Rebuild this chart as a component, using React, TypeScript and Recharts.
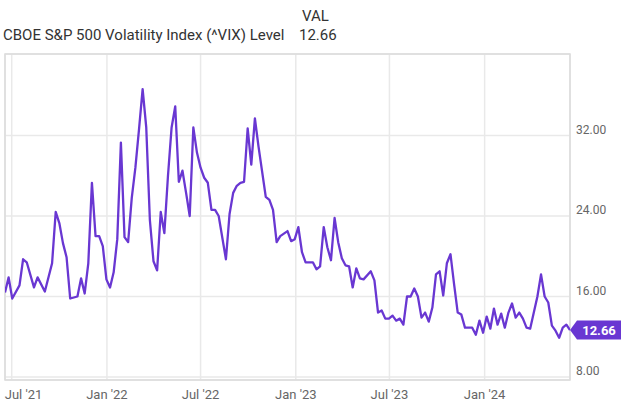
import { LineChart, Line, XAxis, YAxis, CartesianGrid, ReferenceArea } from "recharts";

// weekly readings, Fridays (a few flat/straight weeks left out)
const weekDates = [
  "2021-06-18", "2021-06-25", "2021-07-02", "2021-07-16", "2021-07-23", "2021-07-30", "2021-08-13", "2021-08-20",
  "2021-09-03", "2021-09-17", "2021-09-24", "2021-10-01", "2021-10-08", "2021-10-15", "2021-10-22", "2021-11-05",
  "2021-11-12", "2021-11-19", "2021-11-26", "2021-12-03", "2021-12-10", "2021-12-17", "2021-12-24", "2021-12-31",
  "2022-01-07", "2022-01-14", "2022-01-21", "2022-01-28", "2022-02-04", "2022-02-11", "2022-02-18", "2022-02-25",
  "2022-03-04", "2022-03-11", "2022-03-18", "2022-03-25", "2022-04-01", "2022-04-08", "2022-04-15", "2022-04-22",
  "2022-04-29", "2022-05-06", "2022-05-13", "2022-05-20", "2022-05-27", "2022-06-03", "2022-06-10", "2022-06-17",
  "2022-06-24", "2022-07-01", "2022-07-08", "2022-07-15", "2022-07-22", "2022-07-29", "2022-08-05", "2022-08-19",
  "2022-08-26", "2022-09-02", "2022-09-09", "2022-09-16", "2022-09-23", "2022-09-30", "2022-10-07", "2022-10-14",
  "2022-10-21", "2022-11-04", "2022-11-11", "2022-11-18", "2022-11-25", "2022-12-02", "2022-12-16", "2022-12-23",
  "2022-12-30", "2023-01-06", "2023-01-13", "2023-01-20", "2023-01-27", "2023-02-03", "2023-02-10", "2023-02-17",
  "2023-02-24", "2023-03-03", "2023-03-10", "2023-03-17", "2023-03-24", "2023-03-31", "2023-04-07", "2023-04-14",
  "2023-04-21", "2023-04-28", "2023-05-05", "2023-05-12", "2023-05-26", "2023-06-02", "2023-06-09", "2023-06-16",
  "2023-06-23", "2023-06-30", "2023-07-07", "2023-07-14", "2023-07-21", "2023-07-28", "2023-08-04", "2023-08-11",
  "2023-08-18", "2023-08-25", "2023-09-01", "2023-09-08", "2023-09-15", "2023-09-22", "2023-09-29", "2023-10-06",
  "2023-10-13", "2023-10-20", "2023-10-27", "2023-11-03", "2023-11-10", "2023-11-17", "2023-11-24", "2023-12-01",
  "2023-12-08", "2023-12-15", "2023-12-22", "2023-12-29", "2024-01-05", "2024-01-12", "2024-01-19", "2024-01-26",
  "2024-02-02", "2024-02-09", "2024-02-16", "2024-02-23", "2024-03-01", "2024-03-08", "2024-03-15", "2024-03-22",
  "2024-03-29", "2024-04-12", "2024-04-19", "2024-04-26", "2024-05-03", "2024-05-10", "2024-05-17", "2024-05-24",
  "2024-05-31", "2024-06-07", "2024-06-14",
];

const vixValues = [
  16.4, 17.9, 15.8, 17.1, 19.7, 19.4, 16.9, 17.9,
  16.5, 19.3, 24.4, 23.3, 21.3, 19.9, 15.8, 16.0,
  17.8, 16.3, 19.3, 27.3, 22.0, 22.0, 21.0, 17.7,
  16.9, 18.4, 21.7, 31.3, 21.9, 21.4, 25.8, 28.8,
  32.6, 36.6, 32.8, 23.6, 19.5, 18.6, 24.4, 22.3,
  28.0, 32.8, 34.9, 27.4, 28.5, 26.3, 24.0, 32.8,
  30.3, 28.8, 27.8, 27.3, 24.6, 24.6, 24.0, 19.7,
  24.2, 26.3, 27.0, 27.3, 27.4, 32.7, 29.1, 33.7,
  30.9, 25.9, 25.6, 24.6, 21.4, 22.0, 22.5, 21.5,
  21.7, 22.9, 20.4, 19.4, 19.4, 19.4, 18.7, 19.0,
  22.9, 20.9, 19.6, 23.8, 21.4, 19.8, 19.1, 19.0,
  16.9, 18.8, 17.8, 17.7, 18.5, 17.6, 14.4, 14.6,
  13.8, 13.8, 14.1, 13.6, 13.8, 13.2, 16.0, 16.0,
  16.8, 16.0, 13.9, 14.4, 13.5, 14.9, 18.2, 18.5,
  16.1, 19.3, 20.2, 17.2, 14.4, 14.2, 12.9, 12.9,
  12.9, 12.2, 13.6, 12.4, 14.0, 12.8, 14.8, 13.2,
  14.3, 12.9, 14.4, 15.3, 13.9, 14.4, 13.8, 12.9,
  12.8, 16.0, 18.2, 16.0, 15.4, 13.1, 12.6, 11.9,
  12.9, 13.2, 12.66,
];

const xTickDates = ["2021-07-01", "2022-01-01", "2022-07-01", "2023-01-01", "2023-07-01", "2024-01-01"];
const xTickLabels = ["Jul '21", "Jan '22", "Jul '22", "Jan '23", "Jul '23", "Jan '24"];
const yTicks = [8, 16, 24, 32];

const PURPLE = "#6937d2";
const toTime = (d: string) => new Date(d + "T00:00:00Z").getTime();

const data = weekDates.map((d, i) => ({ t: toTime(d), value: vixValues[i] }));
const xTicks = xTickDates.map(toTime);
const tMin = data[0].t;
const tMax = data[data.length - 1].t;
const yDomain = [7.7, 40.1];

const XTick = ({ x, y, payload, index }: any) => {
  const i = xTicks.indexOf(payload.value);
  const first = index === 0;
  return (
    <text
      x={first ? x - 7 : x}
      y={y + 17}
      textAnchor={first ? "start" : "middle"}
      fill="#666"
      fontSize={13}
      fontFamily="Roboto"
    >
      {xTickLabels[i]}
    </text>
  );
};

const YTick = ({ x, y, payload }: any) => (
  <text x={x} y={y - 6} dy="0.35em" textAnchor="start" fill="#666" fontSize={12} fontFamily="Roboto">
    {payload.value.toFixed(2)}
  </text>
);

const LastBadge = (props: any) => {
  const { x, y, index, value } = props;
  if (index !== data.length - 1) return null;
  const h = 9.5;
  return (
    <g>
      <polygon
        points={`${x},${y} ${x + 7},${y - h} ${x + 51},${y - h} ${x + 51},${y + h} ${x + 7},${y + h}`}
        fill={PURPLE}
      />
      <text x={x + 29} y={y} dy="0.36em" textAnchor="middle" fill="#fff" fontSize={13} fontWeight="bold" fontFamily="Roboto">
        {value.toFixed(2)}
      </text>
    </g>
  );
};

export default function App() {
  return (
    <div style={{ position: "absolute", left: 0, top: 0, width: 640, height: 405, background: "#fff", fontFamily: "Roboto" }}>
      <div style={{ position: "absolute", left: 3, top: 26, fontSize: 15, color: "#333" }}>
        CBOE S&amp;P 500 Volatility Index (^VIX) Level
      </div>
      <div style={{ position: "absolute", left: 302, top: 7, fontSize: 15, color: "#333" }}>VAL</div>
      <div style={{ position: "absolute", left: 299, top: 26, fontSize: 15, color: "#333" }}>12.66</div>
      <LineChart width={640} height={405} data={data} margin={{ top: 54, right: 5, bottom: 0, left: 5 }}>
        <CartesianGrid stroke="#e9e9e9" strokeWidth={1.5} />
        <ReferenceArea x1={tMin} x2={tMax} y1={yDomain[0]} y2={yDomain[1]} fill="none" stroke="#dcdcdc" strokeWidth={1.5} />
        <XAxis
          dataKey="t"
          type="number"
          domain={[tMin, tMax]}
          ticks={xTicks}
          interval={0}
          height={25}
          axisLine={false}
          tickLine={false}
          tickSize={0}
          tick={<XTick />}
          allowDataOverflow
        />
        <YAxis
          orientation="right"
          domain={yDomain}
          ticks={yTicks}
          interval={0}
          width={65}
          axisLine={false}
          tickLine={false}
          tickSize={0}
          tickMargin={6}
          tick={<YTick />}
          allowDataOverflow
        />
        <Line
          type="linear"
          dataKey="value"
          stroke={PURPLE}
          strokeWidth={2.3}
          strokeLinejoin="round"
          dot={false}
          isAnimationActive={false}
          label={LastBadge}
        />
      </LineChart>
    </div>
  );
}
